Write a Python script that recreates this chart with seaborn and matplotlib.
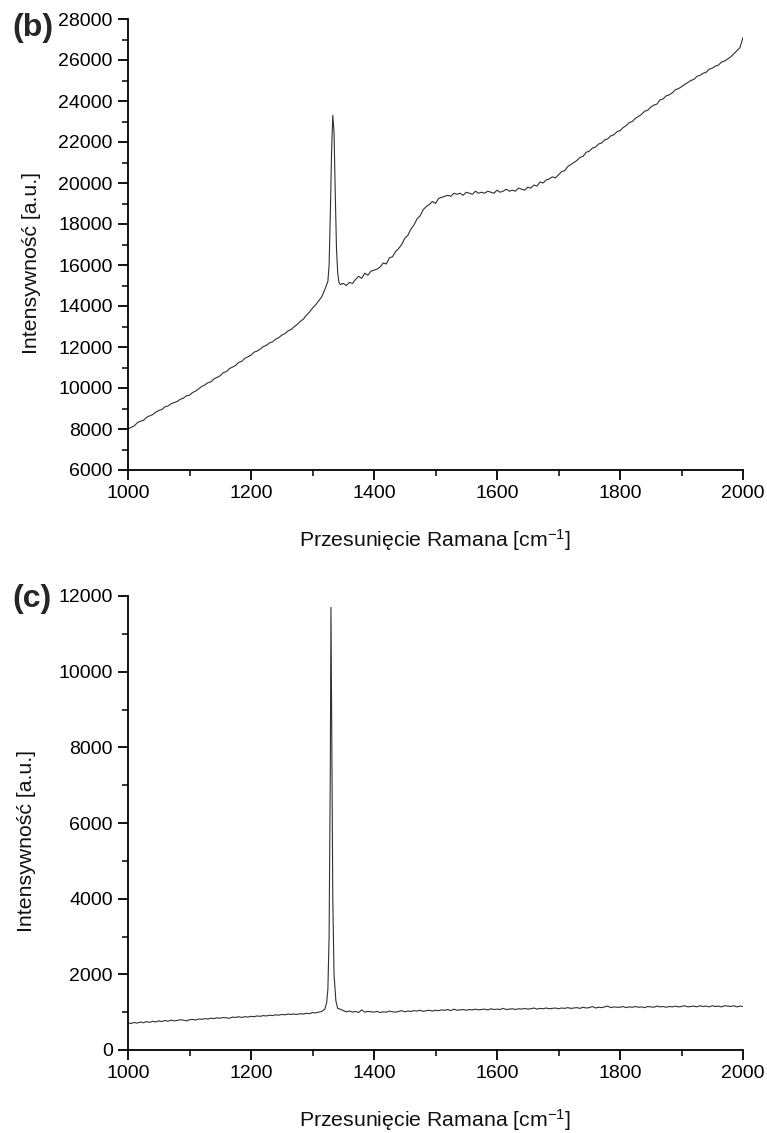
import matplotlib
matplotlib.use("Agg")
import matplotlib.pyplot as plt
import seaborn as sns
import pandas as pd
from matplotlib.ticker import MultipleLocator

# ---------------- data ----------------
shift_b = (list(range(1000, 1325, 5))
           + [1325, 1327, 1329, 1331, 1333, 1335, 1337, 1339, 1341, 1343]
           + list(range(1345, 2005, 5)))
intensity_b = [
    8000, 8080, 8150, 8300, 8380, 8420, 8560, 8640, 8700, 8820,
    8900, 8950, 9080, 9120, 9230, 9290, 9340, 9450, 9500, 9620,
    9650, 9780, 9850, 9960, 10080, 10150, 10260, 10300, 10450, 10520,
    10600, 10750, 10800, 10950, 11020, 11100, 11250, 11300, 11450, 11520,
    11600, 11750, 11800, 11900, 12020, 12080, 12200, 12250, 12380, 12450,
    12580, 12650, 12780, 12850, 12980, 13100, 13250, 13350, 13550, 13700,
    13900, 14050, 14250, 14450, 14800,
    15200, 16000, 18500, 21500, 23300, 22500, 19500, 16800, 15600, 15150,
    15050, 15100, 15000, 15150, 15100, 15300, 15450, 15350, 15600, 15500, 15700,
    15750, 15800, 15900, 16100, 16050, 16350, 16400, 16650, 16800, 17000,
    17300, 17450, 17750, 17950, 18250, 18400, 18700, 18850, 18950, 19100,
    19000, 19250, 19300, 19350, 19400, 19350, 19500, 19450, 19500, 19400,
    19550, 19500, 19450, 19600, 19500, 19550, 19500, 19600, 19550, 19500,
    19650, 19550, 19600, 19700, 19600, 19650, 19600, 19750, 19700, 19650,
    19800, 19750, 19900, 19850, 20050, 20000, 20150, 20200, 20300, 20250,
    20400, 20550, 20600, 20800, 20900, 21000, 21100, 21250, 21300, 21500,
    21550, 21700, 21750, 21900, 21950, 22100, 22150, 22300, 22350, 22500,
    22550, 22700, 22800, 22950, 23000, 23150, 23250, 23350, 23500, 23550,
    23700, 23800, 23850, 24050, 24100, 24250, 24300, 24400, 24550, 24600,
    24700, 24800, 24900, 25000, 25050, 25200, 25250, 25350, 25400, 25550,
    25600, 25700, 25750, 25900, 25950, 26050, 26150, 26300, 26450, 26600,
    27100,
]

shift_c = (list(range(1000, 1320, 5))
           + [1320, 1323, 1325, 1327, 1329, 1330, 1331, 1333, 1335, 1338, 1341]
           + list(range(1345, 2005, 5)))
intensity_c = [
    720, 700, 730, 710, 740, 720, 750, 730, 760, 740,
    770, 750, 780, 760, 790, 770, 780, 800, 790, 770,
    800, 810, 790, 820, 810, 830, 820, 840, 830, 850,
    840, 860, 850, 840, 870, 860, 880, 860, 880, 870,
    890, 880, 900, 890, 910, 900, 920, 910, 930, 920,
    940, 930, 950, 940, 950, 940, 960, 950, 970, 960,
    990, 980, 1000, 1020,
    1080, 1250, 1600, 3000, 7500, 11700, 9000, 4000, 2000, 1300, 1100,
    1080, 1040, 1010, 1030, 1000, 1020, 990, 1060, 1000, 1020, 1010,
    1000, 1020, 990, 1010, 1000, 1030, 1010, 1000, 1020, 1040,
    1010, 1030, 1020, 1040, 1030, 1050, 1020, 1040, 1050, 1030,
    1050, 1040, 1060, 1050, 1070, 1040, 1080, 1050, 1060, 1070,
    1050, 1070, 1060, 1080, 1060, 1070, 1080, 1060, 1090, 1070,
    1080, 1070, 1100, 1070, 1080, 1090, 1070, 1090, 1080, 1100,
    1080, 1090, 1110, 1080, 1100, 1090, 1110, 1090, 1100, 1110,
    1090, 1110, 1100, 1120, 1100, 1110, 1120, 1100, 1130, 1110,
    1120, 1150, 1110, 1130, 1120, 1140, 1160, 1120, 1140, 1130,
    1130, 1150, 1120, 1140, 1130, 1150, 1130, 1140, 1120, 1150,
    1140, 1130, 1160, 1140, 1150, 1130, 1150, 1140, 1160, 1140,
    1150, 1170, 1140, 1150, 1160, 1140, 1170, 1150, 1160, 1140,
    1170, 1150, 1160, 1140, 1170, 1160, 1150, 1170, 1140, 1160,
    1150,
]

panels = [
    ("(b)", shift_b, intensity_b, (6000, 28000), 2000, 1000),
    ("(c)", shift_c, intensity_c, (0, 12000), 2000, 1000),
]
x_label = "Przesunięcie Ramana [cm$^{-1}$]"
y_label = "Intensywność [a.u.]"

# ---------------- style ----------------
sns.set_style("ticks")
plt.rcParams["font.family"] = ["Liberation Sans", "DejaVu Sans"]
plt.rcParams["mathtext.fontset"] = "custom"
plt.rcParams["mathtext.rm"] = "Liberation Sans"
plt.rcParams["mathtext.it"] = "Liberation Sans"

fig = plt.figure(figsize=(7.67, 11.33), dpi=100)
W, H = 767, 1133
boxes = [(128, 19, 743, 470), (128, 596, 743, 1050)]
letter_y = [28, 599]
ylab_x = [-0.142, -0.150]

for i, ((letter, xs, ys, ylim, ymaj, ymin), (l, t, r, b)) in enumerate(zip(panels, boxes)):
    ax = fig.add_axes([l / W, 1 - b / H, (r - l) / W, (b - t) / H])
    df = pd.DataFrame({"x": xs, "y": ys})
    sns.lineplot(data=df, x="x", y="y", ax=ax, color="#303030",
                 linewidth=0.8, estimator=None, sort=False)
    ax.set_xlim(1000, 2000)
    ax.set_ylim(*ylim)
    ax.xaxis.set_major_locator(MultipleLocator(200))
    ax.xaxis.set_minor_locator(MultipleLocator(100))
    ax.yaxis.set_major_locator(MultipleLocator(ymaj))
    ax.yaxis.set_minor_locator(MultipleLocator(ymin))
    for s in ("top", "right"):
        ax.spines[s].set_visible(False)
    for s in ("left", "bottom"):
        ax.spines[s].set_linewidth(1.3)
        ax.spines[s].set_color("black")
    ax.tick_params(which="major", direction="out", length=7, width=1.3,
                   labelsize=14, colors="black", pad=4)
    ax.tick_params(which="minor", direction="out", length=4, width=1.1,
                   colors="black")
    ax.set_xlabel(x_label, fontsize=15.3, color="#111111")
    ax.set_ylabel(y_label, fontsize=15.3, color="#111111")
    ax.xaxis.set_label_coords(0.5, -57 / (b - t))
    ax.yaxis.set_label_coords(ylab_x[i], 0.46)
    fig.text(12 / W, 1 - letter_y[i] / H, letter, fontsize=23,
             fontweight="bold", ha="left", va="center")

fig.savefig("out.png", dpi=100)
